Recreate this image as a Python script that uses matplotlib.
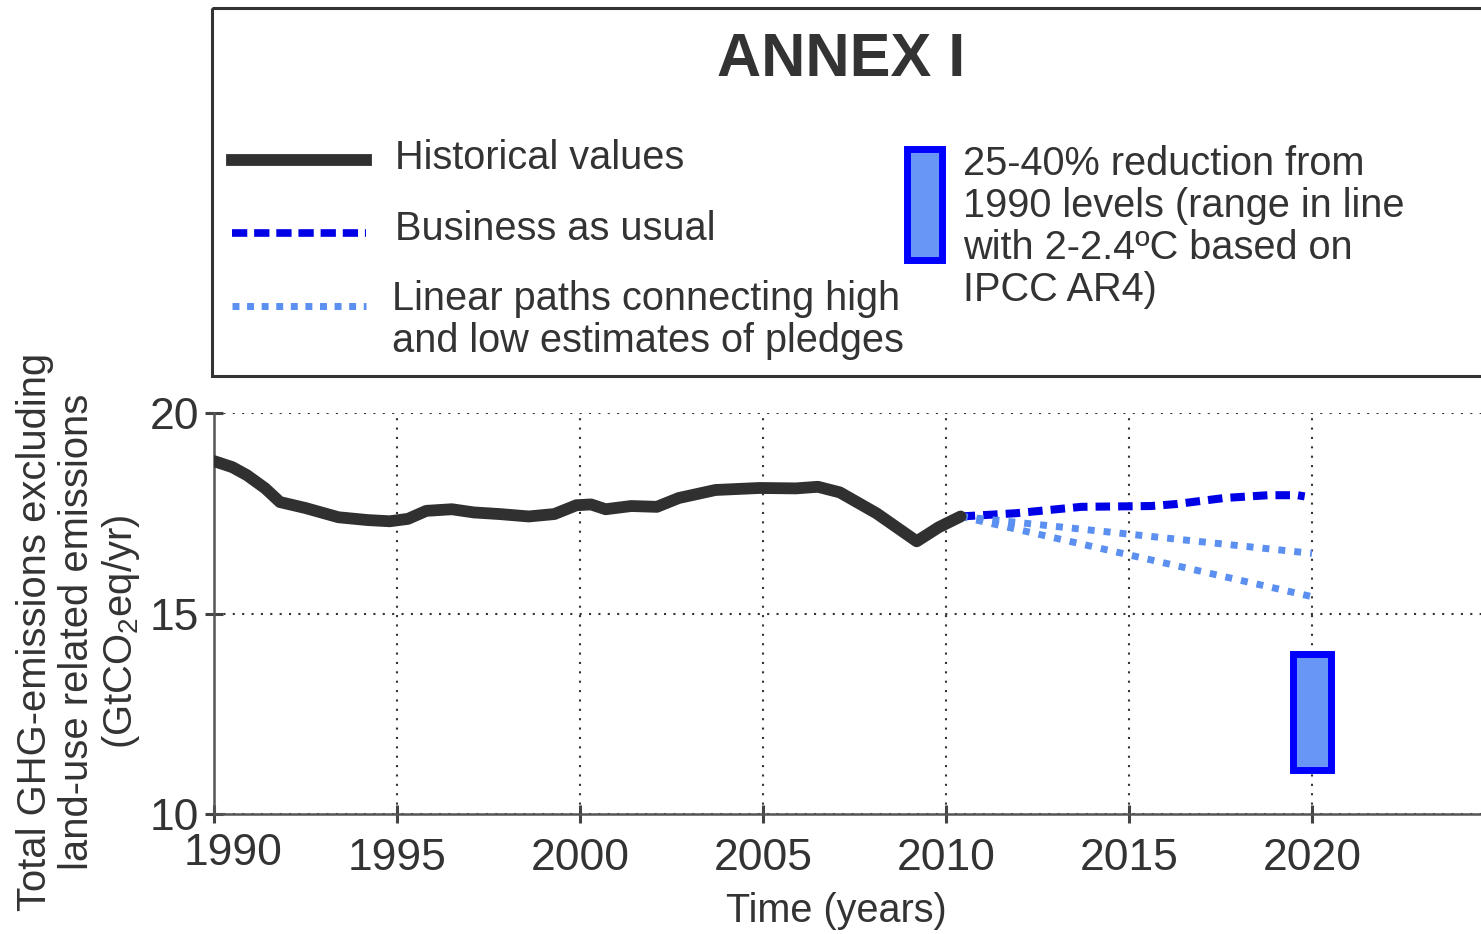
import numpy as np
import matplotlib.pyplot as plt
import matplotlib.patches as mpatches
import matplotlib.transforms as mtransforms
from matplotlib.lines import Line2D

plt.rcParams['font.family'] = ['Liberation Sans', 'DejaVu Sans']
plt.rcParams['mathtext.default'] = 'regular'

# ── data ────────────────────────────────────────────
hist_years = [1990, 1990.5, 1990.9, 1991.4, 1991.8, 1992.5, 1993.4, 1994.2,
              1994.8, 1995.3, 1995.8, 1996.5, 1997.1, 1997.8, 1998.6, 1999.3,
              1999.9, 2000.3, 2000.7, 2001.4, 2002.1, 2002.7, 2003.7, 2004.9,
              2005.9, 2006.5, 2007.1, 2008.1, 2009.2, 2009.8, 2010.4]
hist_vals = [18.8, 18.65, 18.45, 18.12, 17.78, 17.63, 17.4, 17.33,
             17.3, 17.36, 17.56, 17.6, 17.52, 17.48, 17.42, 17.48,
             17.7, 17.72, 17.6, 17.68, 17.66, 17.88, 18.08, 18.13,
             18.12, 18.16, 18.02, 17.5, 16.8, 17.15, 17.42]

bau_years = [2010.4, 2011.9, 2013.7, 2015.6, 2016.3, 2017.6, 2018.8, 2019.6, 2019.8]
bau_vals = [17.42, 17.5, 17.66, 17.68, 17.73, 17.88, 17.95, 17.95, 17.92]

pledge_years = [2010.4, 2020]
pledge_high = [17.42, 16.5]
pledge_low = [17.42, 15.42]

target_year = 2020
target_low, target_high = 11.1, 14.0

x_ticks = [1990, 1995, 2000, 2005, 2010, 2015, 2020]
y_ticks = [10, 15, 20]

# ── colours ────────────────────────────────────────
C_HIST = "#303030"
C_BAU = "#0000e6"
C_PLEDGE = "#5b8ff0"
C_FACE = "#6796f7"
C_EDGE = "#0000ff"
C_TEXT = "#333333"

W, H = 1481, 934
fig = plt.figure(figsize=(W / 100, H / 100), dpi=100)

# ── main axes ───────────────────────────────────────
ax = fig.add_axes([214 / W, 1 - 814 / H, 1 - 214 / W, (814 - 413) / H])
ax.set_xlim(1990, 1990 + (W - 214) / 36.6)
ax.set_ylim(10, 20)

ax.plot(hist_years, hist_vals, color=C_HIST, lw=8.5,
        solid_capstyle="round", solid_joinstyle="round", zorder=4)
ax.plot(bau_years, bau_vals, color=C_BAU, lw=5.8, ls=(0, (1.8, 1.0)),
        dash_capstyle="butt", zorder=3)
ax.plot(pledge_years, pledge_high, color=C_PLEDGE, lw=5, ls=(0, (1, 1.3)),
        zorder=3)
ax.plot(pledge_years, pledge_low, color=C_PLEDGE, lw=5, ls=(0, (1, 1.3)),
        zorder=3)
ax.bar(target_year, target_high - target_low, bottom=target_low, width=1.04,
       color=C_FACE, edgecolor=C_EDGE, linewidth=5, zorder=2)

ax.set_xticks(x_ticks)
ax.set_yticks(y_ticks)
ax.grid(True, color="#333333", ls=(0, (1, 3.5)), lw=1.5)
ax.set_axisbelow(True)
for s in ["top", "right"]:
    ax.spines[s].set_visible(False)
for s in ["left", "bottom"]:
    ax.spines[s].set_color("#555555")
    ax.spines[s].set_linewidth(1.8)
ax.tick_params(direction="inout", length=13, width=2.2, color="#444444",
               labelsize=32, labelcolor=C_TEXT)
ax.tick_params(axis="x", pad=11)
ax.tick_params(axis="y", pad=4)

# 1990 label sits a bit right of its tick
fig.canvas.draw()
lab0 = ax.get_xticklabels()[0]
lab0.set_transform(lab0.get_transform() +
                   mtransforms.ScaledTranslation(0.19, 0.05, fig.dpi_scale_trans))

ax.set_xlabel("Time (years)", fontsize=28.5, color=C_TEXT, labelpad=6)
ax.xaxis.set_label_coords((836 - 214) / (W - 214), -0.195)

fig.text(79 / W, 1 - 632 / H,
         "Total GHG-emissions excluding\nland-use related emissions\n(GtCO$_2$eq/yr)",
         rotation=90, ha="center", va="center", multialignment="center",
         fontsize=28.8, color=C_TEXT, linespacing=1.12)

# ── legend box (pixel coordinates) ──────────────────
lax = fig.add_axes([0, 0, 1, 1], zorder=5)
lax.set_xlim(0, W)
lax.set_ylim(H, 0)
lax.axis("off")
lax.patch.set_alpha(0)

lax.add_patch(mpatches.Rectangle((212, 8), 1400, 368, fill=False,
                                 edgecolor="#333333", lw=2.2))
lax.text(841, 60, "ANNEX I", fontsize=44, fontweight="bold",
         ha="center", va="center", color=C_TEXT)

lax.add_line(Line2D([232, 366], [160, 160], color=C_HIST, lw=8.5))
lax.add_line(Line2D([232, 366], [233, 233], color=C_BAU, lw=5.5,
                    ls=(0, (2.0, 0.9))))
lax.add_line(Line2D([232, 366], [306, 306], color=C_PLEDGE, lw=5,
                    ls=(0, (1, 1.1))))
lax.add_patch(mpatches.Rectangle((906.5, 148.5), 35, 111, facecolor=C_FACE,
                                 edgecolor=C_EDGE, lw=5))

fs = 28.6
lax.text(395, 158, "Historical values", fontsize=fs, va="center", color=C_TEXT)
lax.text(395, 229, "Business as usual", fontsize=fs, va="center", color=C_TEXT)
lax.text(392, 320, "Linear paths connecting high\nand low estimates of pledges",
         fontsize=fs, va="center", color=C_TEXT, linespacing=1.13)
lax.text(963, 227, "25-40% reduction from\n1990 levels (range in line\n"
         "with 2-2.4ºC based on\nIPCC AR4)",
         fontsize=fs, va="center", color=C_TEXT, linespacing=1.13)

fig.savefig("out.png", dpi=100)
